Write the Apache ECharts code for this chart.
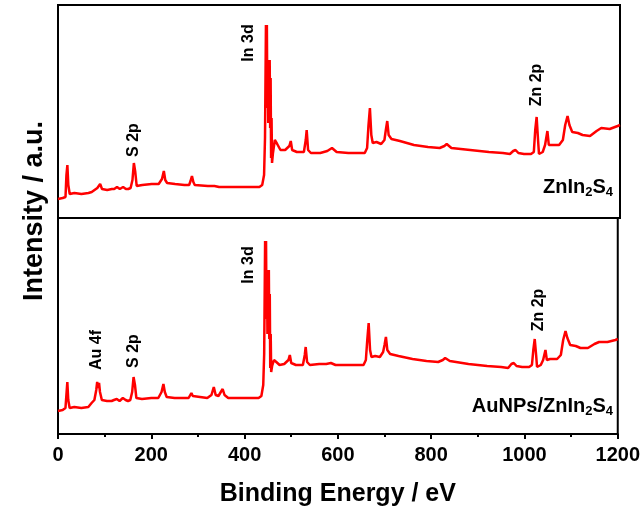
<!DOCTYPE html>
<html>
<head>
<meta charset="utf-8">
<script src="https://cdn.jsdelivr.net/npm/echarts@6/dist/echarts.min.js"></script>
<style>
html,body{margin:0;padding:0;background:#fff;}
#chart{width:643px;height:515px;}
</style>
</head>
<body>
<div id="chart"></div>
<script>
// Binding energy (eV)
var energies = [0,10,16,18,20,22,25,35,50,65,
  72,78,82,84,86,88,90,94,105,115,
  120,126,132,139,145,150,155,159,162,165,
  168,180,200,215,222,226,229,233,250,270,
  280,283,286,289,292,320,329,334,338,344,
  349,353,357,365,400,430,436,440,442,444,
  445,446,447,448,449,450,451,452,453,454,
  455,456,457,459,463,468,475,485,
  494,497,500,510,525,529,531,534,540,560,
  575,585,595,620,640,655,660,663,666,669,
  672,680,690,697,700,703,706,712,730,760,
  790,815,825,830,840,880,920,950,965,972,
  977,983,995,1010,1016,1019,1022,1025,1027,1035,
  1040,1045,1048,1055,1070,1078,1083,1088,1092,1098,
  1110,1120,1136,1150,1160,1178,1195,1200];

// Intensity (a.u.) ZnIn2S4
var znIn2S4 = [19,20,21,43,53,33,24,25,24,25,
  26,28,29,30,31,31,34,29,28,29,
  29,31,29,31,29,29,30,38,55,46,
  32,33,34,34,39,47,38,35,34,33,
  33,37,42,36,33,32,32,32,31,31,
  31,31,31,31,31,31,33,43,80,193,
  150,193,110,158,95,158,100,158,90,140,
  60,100,55,65,78,74,68,68,
  72,77,68,66,66,78,88,68,65,65,
  67,70,66,65,65,65,70,93,110,83,
  75,76,74,78,88,97,83,79,77,73,
  71,70,72,74,70,68,66,65,64,67,
  68,65,64,64,66,88,101,78,64,66,
  73,87,73,73,73,78,93,102,93,86,
  85,83,82,87,90,89,92,93];

// Intensity (a.u.) AuNPs/ZnIn2S4
var auZnIn2S4 = [23,24,26,39,52,34,26,27,26,27,
  31,34,44,52,46,51,42,34,33,33,
  34,35,33,36,34,33,34,42,57,49,
  36,35,36,36,42,50,42,37,36,36,
  36,38,41,38,36,36,39,47,39,38,
  42,45,39,36,36,36,38,49,80,193,
  150,193,115,164,100,164,105,164,95,140,
  66,100,62,68,74,72,69,70,
  74,79,71,69,69,79,87,72,69,70,
  70,71,69,69,69,69,74,94,111,84,
  77,78,77,82,89,97,84,80,78,75,
  73,72,74,76,73,70,68,67,66,70,
  71,68,67,67,69,84,95,79,67,69,
  74,84,74,75,75,79,94,103,96,89,
  88,86,86,90,92,92,94,95];

var xTicks = {min: 0, max: 1200, interval: 200};
var sampleNames = ['ZnIn2S4', 'AuNPs/ZnIn2S4'];
var upperPeakLabels = [['In 3d', 249, 43], ['S 2p', 134, 140], ['Zn 2p', 537, 85]];
var lowerPeakLabels = [['In 3d', 249, 265], ['Au 4f', 97, 350], ['S 2p', 134, 351], ['Zn 2p', 539, 310]];

function pairs(vals){ return energies.map(function(e,i){ return [e, vals[i]]; }); }

var FONT = '"Liberation Sans", Arial, sans-serif';
var chart = echarts.init(document.getElementById('chart'), null, {renderer:'canvas'});

function peakText(l){
  return {type:'text', x:l[1], y:l[2], rotation:Math.PI/2, z:100,
    style:{text:l[0], align:'center', verticalAlign:'middle', fill:'#000',
      font:'bold 16px ' + FONT}};
}

var rich = {
  a:{fontSize:20, fontWeight:'bold', fontFamily:FONT, color:'#000', lineHeight:24},
  s:{fontSize:13, fontWeight:'bold', fontFamily:FONT, color:'#000', lineHeight:24, padding:[10,0,0,0]}
};

var graphics = [];
upperPeakLabels.forEach(function(l){ graphics.push(peakText(l)); });
lowerPeakLabels.forEach(function(l){ graphics.push(peakText(l)); });
graphics.push({type:'text', right:30, top:176, z:100,
  style:{text:'{a|ZnIn}{s|2}{a|S}{s|4}', rich:rich}});
graphics.push({type:'text', right:30, top:395, z:100,
  style:{text:'{a|AuNPs/ZnIn}{s|2}{a|S}{s|4}', rich:rich}});
graphics.push({type:'text', x:35, y:211, rotation:Math.PI/2, z:100,
  style:{text:'Intensity / a.u.', align:'center', verticalAlign:'middle', fill:'#000',
    font:'bold 27px ' + FONT}});

var option = {
  animation:false,
  backgroundColor:'#fff',
  grid:[
    {left:58, top:5, width:562, height:213, show:true, borderColor:'#000', borderWidth:2, backgroundColor:'transparent'},
    {left:58, top:218, width:562, height:216, show:true, borderColor:'#000', borderWidth:2, backgroundColor:'transparent'}
  ],
  xAxis:[
    {type:'value', gridIndex:0, min:xTicks.min, max:xTicks.max, interval:xTicks.interval,
      axisLine:{show:false}, axisTick:{show:false}, axisLabel:{show:false}, splitLine:{show:false}},
    {type:'value', gridIndex:1, min:xTicks.min, max:xTicks.max, interval:xTicks.interval,
      name:'Binding Energy / eV', nameLocation:'middle', nameGap:48,
      nameTextStyle:{fontSize:25, fontWeight:'bold', fontFamily:FONT, color:'#000'},
      axisLine:{show:true, lineStyle:{color:'#000', width:2}},
      axisTick:{show:true, inside:false, length:5, lineStyle:{color:'#000', width:2}},
      minorTick:{show:true, splitNumber:2, length:3, lineStyle:{color:'#000', width:2}},
      axisLabel:{show:true, margin:11, fontSize:20, fontWeight:'bold', fontFamily:FONT, color:'#000',
        formatter:function(v){ return String(v); }},
      splitLine:{show:false}}
  ],
  yAxis:[
    {type:'value', gridIndex:0, min:0, max:213, show:false},
    {type:'value', gridIndex:1, min:0, max:216, show:false}
  ],
  series:[
    {name:sampleNames[0], type:'line', xAxisIndex:0, yAxisIndex:0, data:pairs(znIn2S4),
      showSymbol:false, symbol:'none', lineStyle:{color:'#f00', width:2.5}, z:5},
    {name:sampleNames[1], type:'line', xAxisIndex:1, yAxisIndex:1, data:pairs(auZnIn2S4),
      showSymbol:false, symbol:'none', lineStyle:{color:'#f00', width:2.5}, z:5}
  ],
  graphic:graphics
};
chart.setOption(option);
</script>
</body>
</html>
